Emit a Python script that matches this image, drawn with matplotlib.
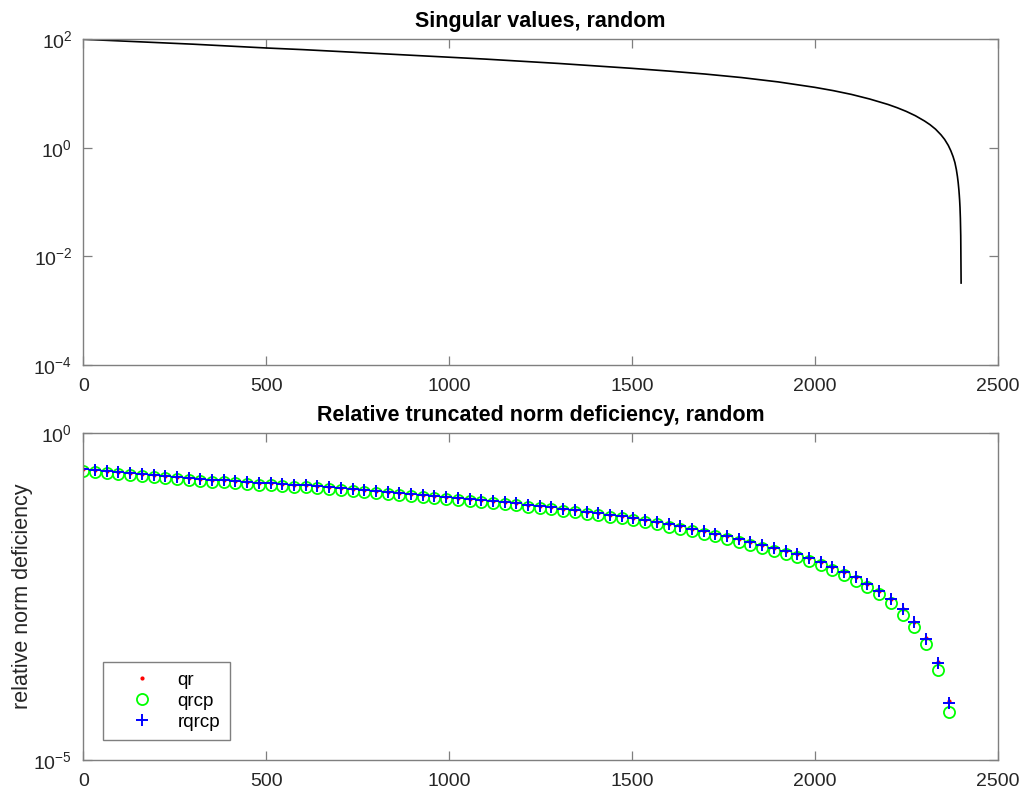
import numpy as np
import matplotlib
matplotlib.use("Agg")
import matplotlib.pyplot as plt

plt.rcParams['font.family'] = ['Liberation Sans', 'DejaVu Sans']
plt.rcParams['mathtext.default'] = 'regular'

# singular values (index, log10 value)
sv_index = [1, 100, 200, 300, 400, 500, 600, 700, 800, 900, 1000, 1100, 1200,
            1300, 1400, 1500, 1600, 1700, 1800, 1900, 2000, 2050, 2100, 2150,
            2200, 2225, 2250, 2275, 2300, 2315, 2330, 2345, 2355, 2365, 2372,
            2378, 2383, 2387, 2390, 2392, 2394, 2395, 2396, 2397, 2398, 2399,
            2400]
sv_log10 = [2.00, 1.97, 1.94, 1.91, 1.875, 1.84, 1.81, 1.775, 1.74, 1.705, 1.67,
            1.635, 1.595, 1.555, 1.51, 1.465, 1.415, 1.36, 1.295, 1.215, 1.115,
            1.055, 0.985, 0.900, 0.800, 0.740, 0.672, 0.592, 0.495, 0.427,
            0.345, 0.240, 0.155, 0.045, -0.055, -0.16, -0.27, -0.40, -0.53,
            -0.64, -0.78, -0.87, -0.97, -1.10, -1.30, -1.62, -2.49]

# truncation ranks for the bottom panel
ranks = np.arange(0, 2369, 32)

# log10 of relative truncated norm deficiency
rqrcp_log10 = [-0.541, -0.560, -0.577, -0.594, -0.610, -0.626, -0.641, -0.656,
               -0.673, -0.689, -0.701, -0.712, -0.722, -0.733, -0.744, -0.755,
               -0.765, -0.776, -0.787, -0.798, -0.813, -0.828, -0.844, -0.859,
               -0.874, -0.890, -0.905, -0.920, -0.936, -0.951, -0.966, -0.982,
               -0.997, -1.012, -1.028, -1.043, -1.058, -1.074, -1.092, -1.112,
               -1.132, -1.153, -1.175, -1.198, -1.222, -1.247, -1.273, -1.301,
               -1.330, -1.360, -1.393, -1.426, -1.462, -1.498, -1.537, -1.577,
               -1.618, -1.661, -1.706, -1.752, -1.801, -1.853, -1.910, -1.972,
               -2.041, -2.118, -2.204, -2.301, -2.411, -2.540, -2.695, -2.893,
               -3.149, -3.517, -4.121]
qr_log10 = [-0.541, -0.560, -0.577, -0.594, -0.610, -0.626, -0.641, -0.656,
            -0.673, -0.689, -0.701, -0.712, -0.722, -0.733, -0.744, -0.755,
            -0.765, -0.776, -0.787, -0.798, -0.813, -0.828, -0.844, -0.859,
            -0.874, -0.890, -0.905, -0.920, -0.936, -0.951, -0.966, -0.982,
            -0.997, -1.012, -1.028, -1.043, -1.058, -1.074, -1.092, -1.112,
            -1.132, -1.153, -1.175, -1.198, -1.222, -1.247, -1.273, -1.301,
            -1.330, -1.360, -1.393, -1.426, -1.462, -1.498, -1.537, -1.577,
            -1.618, -1.661, -1.706, -1.752, -1.801, -1.853, -1.910, -1.972,
            -2.041, -2.118, -2.204, -2.301, -2.411, -2.535, -2.688, -2.882,
            -3.135, -3.495, -4.095]
qrcp_log10 = [-0.571, -0.590, -0.607, -0.624, -0.640, -0.656, -0.671, -0.686,
              -0.703, -0.719, -0.731, -0.742, -0.752, -0.763, -0.774, -0.785,
              -0.795, -0.806, -0.817, -0.828, -0.843, -0.858, -0.874, -0.889,
              -0.904, -0.920, -0.935, -0.950, -0.966, -0.981, -0.996, -1.012,
              -1.027, -1.042, -1.058, -1.073, -1.088, -1.104, -1.122, -1.142,
              -1.162, -1.183, -1.205, -1.228, -1.252, -1.277, -1.303, -1.331,
              -1.362, -1.393, -1.427, -1.461, -1.498, -1.535, -1.575, -1.616,
              -1.658, -1.702, -1.748, -1.795, -1.845, -1.898, -1.956, -2.019,
              -2.089, -2.167, -2.255, -2.354, -2.466, -2.600, -2.775, -2.960,
              -3.220, -3.615, -4.270]

edge = '#7f7f7f'
txt = '#262626'

fig = plt.figure(figsize=(10.24, 7.94), dpi=100)
ax1 = fig.add_axes([0.0814, 0.5403, 0.8929, 0.4102])
ax2 = fig.add_axes([0.0814, 0.0428, 0.8929, 0.4115])

ax1.semilogy(sv_index, 10.0 ** np.array(sv_log10), color='black', lw=1.2)
ax1.set_xlim(0, 2500)
ax1.set_ylim(1e-4, 1e2)
ax1.set_yticks([1e-4, 1e-2, 1e0, 1e2])
ax1.set_title('Singular values, random', fontsize=15.5, fontweight='bold', pad=9)

ax2.semilogy(ranks, 10.0 ** np.array(qr_log10), '.', color='red', ms=4,
             label='qr')
ax2.semilogy(ranks, 10.0 ** np.array(qrcp_log10), 'o', mfc='none',
             mec='#00ff00', mew=1.3, ms=8, label='qrcp')
ax2.semilogy(ranks, 10.0 ** np.array(rqrcp_log10), '+', color='blue',
             mew=1.4, ms=9, label='rqrcp')
ax2.set_xlim(0, 2500)
ax2.set_ylim(1e-5, 1e0)
ax2.set_yticks([1e-5, 1e0])
ax2.set_title('Relative truncated norm deficiency, random', fontsize=15.5,
              fontweight='bold', pad=9)
ax2.set_ylabel('relative norm deficiency', fontsize=15.5, color=txt, labelpad=0)

for ax in (ax1, ax2):
    ax.minorticks_off()
    ax.set_xticks([0, 500, 1000, 1500, 2000, 2500])
    ax.tick_params(direction='in', length=6.5, width=0.9, top=True,
                   right=True, labelsize=14, colors=edge, labelcolor=txt)
    ax.tick_params(axis='x', pad=9)
    ax.tick_params(axis='y', pad=8)
    for s in ax.spines.values():
        s.set_color(edge)
        s.set_linewidth(1.0)

leg = ax2.legend(loc='lower left', bbox_to_anchor=(0.021, 0.061),
                 borderaxespad=0, fontsize=13.5, fancybox=False,
                 edgecolor=edge, framealpha=1, handletextpad=0.3,
                 borderpad=0.5, labelspacing=0.2, handlelength=3.2)
leg.get_frame().set_linewidth(1.0)

fig.savefig('out.png', dpi=100)
